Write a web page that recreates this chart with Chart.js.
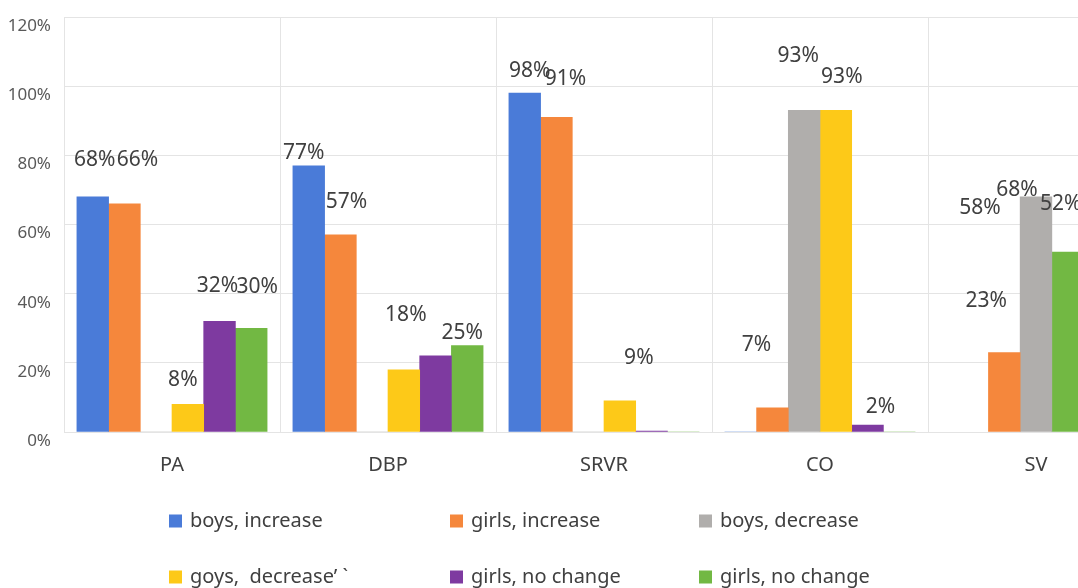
<!DOCTYPE html>
<html>
<head>
<meta charset="utf-8">
<script src="https://cdn.jsdelivr.net/npm/chart.js@4.4.1/dist/chart.umd.min.js"></script>
<style>
  html, body { margin: 0; padding: 0; background: #fff; overflow: hidden; }
  #wrap { position: relative; width: 1150px; height: 588px; }
</style>
</head>
<body>
<div id="wrap"><canvas id="chart"></canvas></div>
<script>
// Share of children (%) per haemodynamic parameter.
// 0 = nobody in that group (empty slot kept), null = group not reported (slot dropped).
const categories     = ['PA', 'DBP', 'SRVR', 'CO', 'SV'];
const boysIncrease   = [68, 77, 98, 0, null];
const girlsIncrease  = [66, 57, 91, 7, 23];
const boysDecrease   = [0, 0, 0, 93, 68];
const goysDecrease   = [8, 18, 9, 93, null];
const girlsNoChangeA = [32, 22, 0.3, 2, null];
const girlsNoChangeB = [30, 25, 0, 0, 52];
const yTicks         = [0, 20, 40, 60, 80, 100, 120];

const seriesNames  = ['boys, increase', 'girls, increase', 'boys, decrease',
                      'goys,  decrease\u2019 `', 'girls, no change', 'girls, no change'];
const seriesColors = ['#4a7bd8', '#f5873c', '#b0aeac', '#fdc918', '#7e3aa0', '#72b843'];

// bars whose value is not printed
const unlabeled = { DBP: [4] };
// hand placement of crowded value labels: [dx, dy] in px
const labelNudge = {
  'PA:0': [2, -21], 'PA:1': [13, -28], 'PA:3': [-5, -8], 'PA:4': [-2, -19], 'PA:5': [6, -25],
  'DBP:0': [-5, 3], 'DBP:1': [6, -17], 'DBP:3': [2, -39], 'DBP:5': [-5, 3],
  'SRVR:0': [5, -6], 'SRVR:1': [9, -22], 'SRVR:3': [19, -27],
  'CO:1': [-16, -47], 'CO:2': [-6, -38], 'CO:3': [6, -17], 'CO:4': [13, -2],
  'SV:1': [-18, -35], 'SV:2': [-19, 9], 'SV:5': [-7, -32]
};
// free text printed beside a bar
const notes = [{ category: 'SV', dataset: 2, text: '58%', dx: -56, dy: 27 }];

const seriesValues = [boysIncrease, girlsIncrease, boysDecrease, goysDecrease, girlsNoChangeA, girlsNoChangeB];

const valueLabels = {
  id: 'valueLabels',
  afterDatasetsDraw(chart, args, opts) {
    const ctx = chart.ctx;
    ctx.save();
    ctx.font = opts.font;
    ctx.fillStyle = opts.color;
    ctx.textAlign = 'center';
    ctx.textBaseline = 'middle';
    chart.data.datasets.forEach((ds, di) => {
      const meta = chart.getDatasetMeta(di);
      ds.data.forEach((v, ci) => {
        if (v == null || v < 1) return;
        const cat = categories[ci];
        if ((unlabeled[cat] || []).includes(di)) return;
        const bar = meta.data[ci];
        const [dx, dy] = labelNudge[cat + ':' + di] || [0, 0];
        ctx.fillText(v + '%', bar.x + dx, bar.y - opts.gap + dy);
      });
    });
    notes.forEach(n => {
      const bar = chart.getDatasetMeta(n.dataset).data[categories.indexOf(n.category)];
      ctx.fillText(n.text, bar.x + n.dx, bar.y - opts.gap + n.dy);
    });
    ctx.restore();
  }
};

const gridLegend = {
  id: 'gridLegend',
  afterDraw(chart, args, opts) {
    const ctx = chart.ctx;
    ctx.save();
    ctx.font = opts.font;
    ctx.textBaseline = 'middle';
    ctx.textAlign = 'left';
    chart.data.datasets.forEach((ds, i) => {
      const x = opts.cols[i % opts.cols.length];
      const y = opts.rows[Math.floor(i / opts.cols.length)];
      ctx.fillStyle = ds.backgroundColor;
      ctx.fillRect(x, y - opts.box / 2, opts.box, opts.box);
      ctx.fillStyle = opts.color;
      ctx.fillText(ds.label, x + opts.box + opts.gap, y);
    });
    ctx.restore();
  }
};

new Chart(document.getElementById('chart'), {
  type: 'bar',
  data: {
    labels: categories,
    datasets: seriesValues.map((vals, i) => ({
      label: seriesNames[i],
      data: vals,
      backgroundColor: seriesColors[i],
      borderWidth: 0
    }))
  },
  options: {
    responsive: true,
    maintainAspectRatio: false,
    animation: false,
    events: [],
    skipNull: true,
    barThickness: 31.7,
    layout: { padding: { top: 17, right: 6, bottom: 111, left: 0 } },
    scales: {
      x: {
        grid: { color: '#e4e4e4', lineWidth: 1, drawTicks: false, offset: true },
        border: { display: false },
        ticks: { color: '#404040', padding: 21, font: { family: 'Noto Sans', size: 20 } },
        afterFit(scale) { scale.height = 45; scale.paddingLeft = 0; scale.paddingRight = 0; }
      },
      y: {
        min: 0,
        max: 120,
        grid: { color: '#e4e4e4', lineWidth: 1, drawTicks: false },
        border: { display: false },
        afterBuildTicks(scale) { scale.ticks = yTicks.map(v => ({ value: v })); },
        ticks: {
          color: '#595959',
          padding: 13,
          labelOffset: 9,
          font: { family: 'Noto Sans', size: 17 },
          callback: v => v + '%'
        },
        afterFit(scale) { scale.width = 64; scale.paddingTop = 0; scale.paddingBottom = 0; }
      }
    },
    plugins: {
      legend: { display: false },
      tooltip: { enabled: false },
      valueLabels: { font: '21px "Noto Sans"', color: '#404040', gap: 16 },
      gridLegend: { cols: [169, 450, 699], rows: [521, 577], box: 13, gap: 8,
                    font: '20px "Noto Sans"', color: '#404040' }
    }
  },
  plugins: [valueLabels, gridLegend]
});
</script>
</body>
</html>
